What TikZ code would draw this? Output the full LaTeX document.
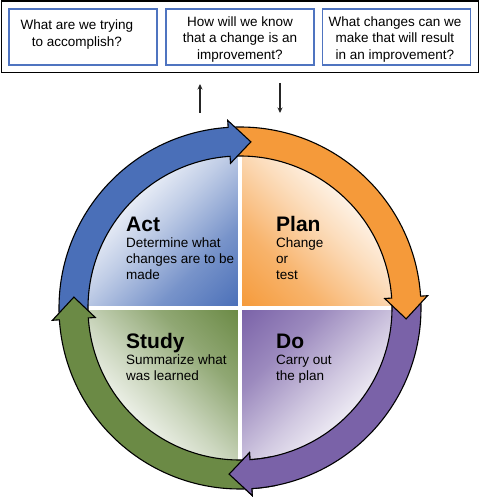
\documentclass[tikz,border=0pt]{standalone}
\usepackage{fontspec}
\setmainfont{Liberation Sans}
\usetikzlibrary{arrows.meta}
\definecolor{actc}{HTML}{4A6FB8}
\definecolor{planc}{HTML}{F59A3A}
\definecolor{doclr}{HTML}{7A62A8}
\definecolor{studyc}{HTML}{6B8A45}
\definecolor{boxblue}{HTML}{4F74C0}
\colorlet{actA}{actc!35!white}\colorlet{actB}{actc!75!white}
\colorlet{planA}{planc!35!white}\colorlet{planB}{planc!75!white}
\colorlet{doA}{doclr!35!white}\colorlet{doB}{doclr!75!white}
\colorlet{studyA}{studyc!35!white}\colorlet{studyB}{studyc!75!white}
\pgfdeclarehorizontalshading{actsh}{100bp}{color(0bp)=(white); color(28bp)=(white); color(47bp)=(actA); color(66bp)=(actB); color(85bp)=(actc); color(100bp)=(actc)}
\pgfdeclarehorizontalshading{plansh}{100bp}{color(0bp)=(white); color(28bp)=(white); color(47bp)=(planA); color(66bp)=(planB); color(85bp)=(planc); color(100bp)=(planc)}
\pgfdeclarehorizontalshading{dosh}{100bp}{color(0bp)=(white); color(28bp)=(white); color(47bp)=(doA); color(66bp)=(doB); color(85bp)=(doclr); color(100bp)=(doclr)}
\pgfdeclarehorizontalshading{studysh}{100bp}{color(0bp)=(white); color(28bp)=(white); color(47bp)=(studyA); color(66bp)=(studyB); color(85bp)=(studyc); color(100bp)=(studyc)}
\newcommand{\boxfont}{\fontsize{13.5}{16.5}\selectfont}
\newcommand{\titlefont}{\fontsize{21}{24}\selectfont\bfseries}
\newcommand{\descfont}{\fontsize{13.5}{16}\selectfont}
% #1 fill colour, #2 tail angle, #3 head base angle, #4 tip angle
\newcommand{\pdsaarrow}[4]{%
  \filldraw[ringarrow, fill=#1] (#2:181) arc[start angle=#2, end angle=#3, radius=181]
    -- (#3:188) -- (#4:166.5) -- (#3:145) -- (#3:152)
    arc[start angle=#3, end angle=#2, radius=152] -- cycle;}
\tikzset{
  ringarrow/.style={draw=black, line width=1.1pt, line join=miter},
  outerbox/.style={draw=black, line width=1.6pt, inner sep=0pt},
  qbox/.style={draw=boxblue, line width=1.3pt, inner sep=0pt, minimum width=148, minimum height=56},
  qtext/.style={font=\boxfont, align=center, inner sep=0pt},
  ptitle/.style={font=\titlefont, anchor=base west, inner sep=0pt},
  pdesc/.style={font=\descfont, anchor=base west, align=left, inner sep=0pt},
  smallarrow/.style={draw=black!85, line width=1.1pt, -{Stealth[length=5.5pt,width=5pt]}}
}
\begin{document}
\begin{tikzpicture}[x=1pt,y=1pt]
\useasboundingbox (0,0) rectangle (480,499);
% top question panel
\node[outerbox, minimum width=477, minimum height=71.5] (frame) at (240,462.25) {};
\node[qbox] (q1) at (83,462) {};
\node[qbox] (q2) at (240,462) {};
\node[qbox] (q3) at (396.5,462) {};
\node[qtext] (t1) at (77,464.5) {What are we trying\\to accomplish?};
\node[qtext] (t2) at (240,459.5) {How will we know\\that a change is an\\improvement?};
\node[qtext] (t3) at (395,459.5) {What changes can we\\make that will result\\in an improvement?};
% small arrows
\coordinate (upA) at (200,386);
\coordinate (upB) at (200,415);
\coordinate (dnA) at (280,416);
\coordinate (dnB) at (280,386);
\draw[smallarrow] (upA) -- (upB);
\draw[smallarrow] (dnA) -- (dnB);
% cycle
\begin{scope}[shift={(240,191)}]
  \shade[shading=actsh, shading angle=-45] (0,0) -- (180:152) arc[start angle=180, end angle=90, radius=152] -- cycle;
  \shade[shading=plansh, shading angle=225] (0,0) -- (90:152) arc[start angle=90, end angle=0, radius=152] -- cycle;
  \shade[shading=dosh, shading angle=135] (0,0) -- (0:152) arc[start angle=0, end angle=-90, radius=152] -- cycle;
  \shade[shading=studysh, shading angle=45] (0,0) -- (-90:152) arc[start angle=-90, end angle=-180, radius=152] -- cycle;
  \draw[white, line width=4pt] (-153,0) -- (153,0);
  \draw[white, line width=4pt] (0,-153) -- (0,153);
  \pdsaarrow{doclr}{2.75}{-86.25}{-93.75}
  \pdsaarrow{planc}{92.75}{3.75}{-3.75}
  \pdsaarrow{actc}{182.75}{93.75}{86.25}
  \pdsaarrow{studyc}{-87.25}{-176.25}{-183.75}
  \begin{scope}
    \clip (0,0) -- (-78:205) arc[start angle=-78, end angle=-102, radius=205] -- cycle;
    \pdsaarrow{doclr}{2.75}{-86.25}{-93.75}
  \end{scope}
\end{scope}
% quadrant labels
\node[ptitle] (actT) at (126,267.3) {Act};
\node[pdesc] (actD) at (126,219) {Determine what\\changes are to be\\made};
\node[ptitle] (planT) at (276,267.3) {Plan};
\node[pdesc] (planD) at (276,219) {Change\\or\\test};
\node[ptitle] (studyT) at (126,150) {Study};
\node[pdesc] (studyD) at (126,118) {Summarize what\\was learned};
\node[ptitle] (doT) at (276,150) {Do};
\node[pdesc] (doD) at (276,118) {Carry out\\the plan};
\end{tikzpicture}
\end{document}
